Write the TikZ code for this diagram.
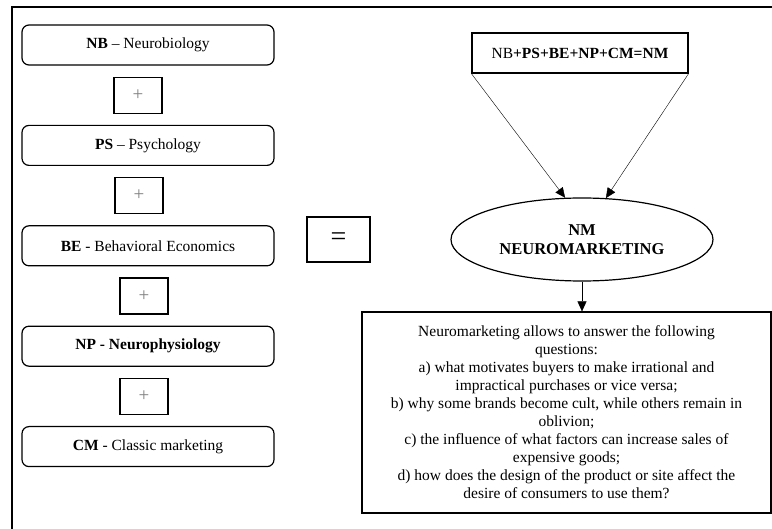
\documentclass[tikz,border=0pt]{standalone}
\usepackage{fontspec}
\setmainfont{Liberation Serif}
\usetikzlibrary{arrows.meta,positioning,shapes.geometric}

\tikzset{
  field/.style={draw, line width=1.2pt, rounded corners=7pt, minimum width=252pt, minimum height=40pt},
  plus/.style={draw, line width=1.2pt, minimum width=48pt, minimum height=36pt, text=gray, font=\fontsize{19}{20}\selectfont},
  plainbox/.style={draw, line width=1.2pt},
  arr/.style={-{Triangle[length=10pt,width=9pt]}}
}

\begin{document}
\begin{tikzpicture}[x=1pt, y=-1pt, node distance=11pt, font=\fontsize{15.5}{18}\selectfont]
        \useasboundingbox (0,0) rectangle (772,529);
        \draw[line width=1.6pt] (12,529) -- (12,7) -- (772,7);

        % left column
        \node[field] (nb) at (148,45) {\textbf{NB} -- Neurobiology};
        \node[plus] (plus1) [below=of nb, xshift=-10pt] {+};
        \node[field] (ps) [below=of plus1, xshift=10pt] {\textbf{PS} -- Psychology};
        \node[plus] (plus2) [below=of ps, xshift=-9pt] {+};
        \node[field] (be) [below=of plus2, xshift=9pt] {\textbf{BE} - Behavioral Economics};
        \node[plus] (plus3) [below=of be, xshift=-4pt] {+};
        \node[field] (np) [below=of plus3, xshift=4pt] {\textbf{NP - Neurophysiology}};
        \node[plus] (plus4) [below=of np, xshift=-4pt] {+};
        \node[field] (cm) [below=of plus4, xshift=4pt] {\textbf{CM} - Classic marketing};

        \node[plainbox, minimum width=63pt, minimum height=45pt, font=\fontsize{28}{30}\selectfont] (equals) at (338.5,239.5) {=};

        % right column
        \node[plainbox, minimum width=216pt, minimum height=40pt] (formula) at (580,53) {NB\textbf{+PS+BE+NP+CM=NM}};
        \node[draw, ellipse, line width=1.2pt, minimum width=262pt, minimum height=83pt, align=center, font=\fontsize{16.5}{19}\selectfont\bfseries] (nm) at (582,239.5) {NM\\NEUROMARKETING};
        \node[plainbox, minimum width=409pt, minimum height=201pt, align=center] (answers) at (566.5,412.5) {Neuromarketing allows to answer the following\\questions:\\a) what motivates buyers to make irrational and\\impractical purchases or vice versa;\\b) why some brands become cult, while others remain in\\oblivion;\\c) the influence of what factors can increase sales of\\expensive goods;\\d) how does the design of the product or site affect the\\desire of consumers to use them?};

        \draw[arr] (formula.south west) -- (nm.112);
        \draw[arr] (formula.south east) -- (nm.60);
        \draw[arr] (nm.south) -- (nm.south |- answers.north);
\end{tikzpicture}
\end{document}
